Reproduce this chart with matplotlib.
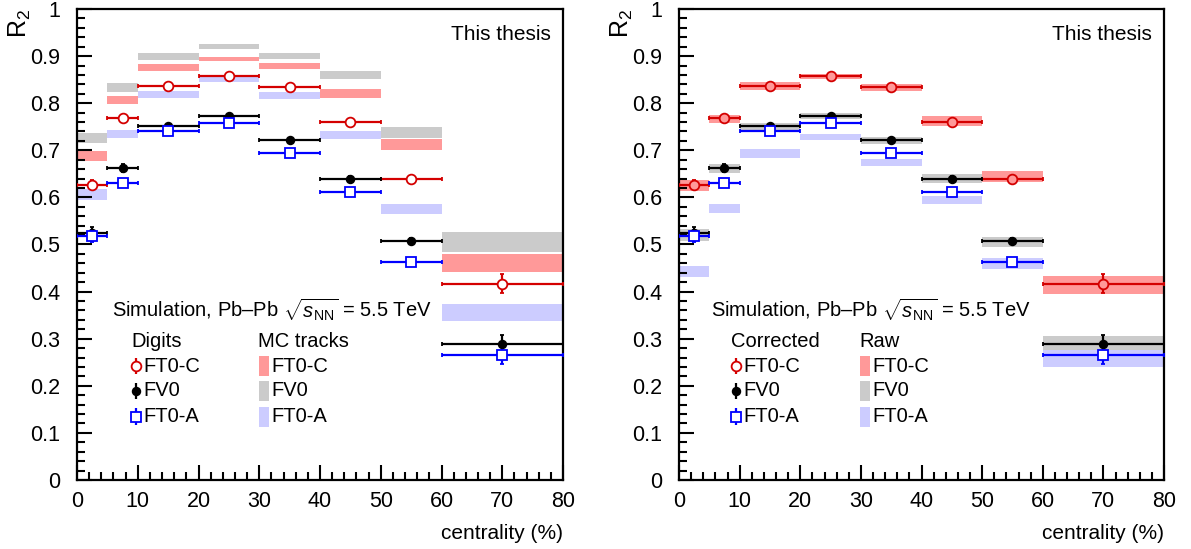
import numpy as np
import matplotlib
matplotlib.use('Agg')
import matplotlib.pyplot as plt
from matplotlib.ticker import MultipleLocator, FuncFormatter

plt.rcParams.update({
    'font.family': ['Liberation Sans', 'DejaVu Sans'],
    'font.size': 15,
    'mathtext.fontset': 'custom',
    'mathtext.rm': 'Liberation Sans',
    'mathtext.it': 'Liberation Sans:italic',
})

# centrality bins
edges = np.array([0, 5, 10, 20, 30, 40, 50, 60, 80])

# digits / corrected values
ft0c = [0.627, 0.768, 0.836, 0.857, 0.834, 0.761, 0.640, 0.417]
ft0c_err = [0.010, 0.007, 0.004, 0.004, 0.004, 0.005, 0.005, 0.020]
fv0 = [0.525, 0.662, 0.751, 0.773, 0.722, 0.639, 0.507, 0.289]
fv0_err = [0.012, 0.009, 0.005, 0.004, 0.005, 0.006, 0.006, 0.018]
ft0a = [0.518, 0.631, 0.742, 0.759, 0.695, 0.611, 0.463, 0.266]
ft0a_err = [0.012, 0.008, 0.005, 0.004, 0.005, 0.006, 0.006, 0.020]

# MC tracks bands (low, high)
mc_ft0c_lo = [0.678, 0.798, 0.869, 0.890, 0.872, 0.810, 0.700, 0.441]
mc_ft0c_hi = [0.699, 0.815, 0.883, 0.898, 0.886, 0.830, 0.725, 0.480]
mc_fv0_lo = [0.715, 0.824, 0.892, 0.916, 0.893, 0.851, 0.726, 0.485]
mc_fv0_hi = [0.737, 0.842, 0.906, 0.925, 0.906, 0.868, 0.749, 0.526]
mc_ft0a_lo = [0.595, 0.727, 0.810, 0.845, 0.808, 0.723, 0.564, 0.337]
mc_ft0a_hi = [0.618, 0.744, 0.826, 0.857, 0.823, 0.742, 0.587, 0.374]

# raw bands (low, high)
raw_ft0c_lo = [0.613, 0.758, 0.828, 0.852, 0.826, 0.751, 0.632, 0.395]
raw_ft0c_hi = [0.638, 0.776, 0.844, 0.861, 0.840, 0.773, 0.656, 0.434]
raw_fv0_lo = [0.507, 0.651, 0.741, 0.767, 0.713, 0.630, 0.495, 0.275]
raw_fv0_hi = [0.532, 0.671, 0.759, 0.780, 0.729, 0.649, 0.516, 0.306]
raw_ft0a_lo = [0.432, 0.566, 0.684, 0.722, 0.666, 0.585, 0.448, 0.240]
raw_ft0a_hi = [0.455, 0.585, 0.702, 0.734, 0.682, 0.603, 0.471, 0.275]

red, black, blue = '#d40000', 'black', '#0000ff'
band_red, band_gray, band_blue = '#ff9999', '#cbcbcb', '#ccccff'

centers = 0.5 * (edges[:-1] + edges[1:])
widths = np.diff(edges)

fig = plt.figure(figsize=(11.91, 5.49), dpi=100)
ax1 = fig.add_axes([77 / 1191, 69 / 549, 486 / 1191, 471 / 549])
ax2 = fig.add_axes([679 / 1191, 69 / 549, 485 / 1191, 471 / 549])


def draw_bands(ax, lo, hi, color):
    lo = np.array(lo)
    hi = np.array(hi)
    ax.bar(centers, hi - lo, bottom=lo, width=widths, color=color, linewidth=0, zorder=1)


def draw_points(ax, vals, errs, color, marker, face, ms):
    ax.errorbar(centers, vals, xerr=widths / 2, yerr=errs, fmt=marker, color=color,
                mfc=face, mec=color, ms=ms, mew=1.3, elinewidth=1.6, capsize=1.5,
                capthick=1.6, zorder=3)


def style(ax):
    ax.set_xlim(0, 80)
    ax.set_ylim(0, 1)
    ax.xaxis.set_major_locator(MultipleLocator(10))
    ax.xaxis.set_minor_locator(MultipleLocator(2))
    ax.yaxis.set_major_locator(MultipleLocator(0.1))
    ax.yaxis.set_minor_locator(MultipleLocator(0.02))
    ax.yaxis.set_major_formatter(FuncFormatter(lambda v, p: '%g' % round(v, 2)))
    ax.tick_params(which='both', direction='in', top=False, right=False, width=1.5)
    ax.tick_params(which='major', length=11, labelsize=15.5)
    ax.tick_params(axis='y', which='major', pad=12)
    ax.tick_params(axis='x', which='major', pad=8)
    ax.tick_params(which='minor', length=5.5)
    for s in ax.spines.values():
        s.set_linewidth(1.6)
    ax.text(0.975, 0.945, 'This thesis', transform=ax.transAxes, ha='right', va='center',
            fontsize=15)
    ax.text(1.0, -0.093, 'centrality (%)', transform=ax.transAxes, ha='right', va='top',
            fontsize=15)
    ax.text(-0.118, 1.0, r'R$_2$', transform=ax.transAxes, ha='center', va='top',
            rotation=90, fontsize=18)


def legend(ax, sim_x, col1_x, col2_x, head1, head2):
    t = ax.transAxes
    ax.text(sim_x, 0.361, r'Simulation, Pb–Pb $\sqrt{s_{\rm NN}}$ = 5.5 TeV', transform=t,
            ha='left', va='center', fontsize=14.5)
    ax.text(col1_x, 0.293, head1, transform=t, ha='left', va='center', fontsize=14.5)
    ax.text(col2_x, 0.293, head2, transform=t, ha='left', va='center', fontsize=14.5)
    rows = [('FT0-C', red, 'o', 'white', 7, band_red),
            ('FV0', black, 'o', black, 5.5, band_gray),
            ('FT0-A', blue, 's', 'white', 6.5, band_blue)]
    ys = [0.242, 0.189, 0.134]
    for (name, c, m, f, ms, bc), y in zip(rows, ys):
        mx = col1_x + 0.01
        ax.errorbar([mx], [y], yerr=[0.018], fmt=m, color=c, mfc=f, mec=c, ms=ms, mew=1.3,
                    elinewidth=1.6, capsize=0, transform=t, clip_on=False, zorder=5)
        ax.text(col1_x + 0.025, y, name, transform=t, ha='left', va='center', fontsize=14.5)
        ax.add_patch(plt.Rectangle((col2_x + 0.002, y - 0.022), 0.021, 0.044, transform=t,
                                   color=bc, linewidth=0))
        ax.text(col2_x + 0.028, y, name, transform=t, ha='left', va='center', fontsize=14.5)


# left panel: digits vs MC tracks
draw_bands(ax1, mc_fv0_lo, mc_fv0_hi, band_gray)
draw_bands(ax1, mc_ft0c_lo, mc_ft0c_hi, band_red)
draw_bands(ax1, mc_ft0a_lo, mc_ft0a_hi, band_blue)
draw_points(ax1, ft0c, ft0c_err, red, 'o', 'white', 7)
draw_points(ax1, fv0, fv0_err, black, 'o', black, 5.5)
draw_points(ax1, ft0a, ft0a_err, blue, 's', 'white', 6.5)
style(ax1)
legend(ax1, 0.072, 0.111, 0.372, 'Digits', 'MC tracks')

# right panel: corrected vs raw
draw_bands(ax2, raw_ft0c_lo, raw_ft0c_hi, band_red)
draw_bands(ax2, raw_fv0_lo, raw_fv0_hi, band_gray)
draw_bands(ax2, raw_ft0a_lo, raw_ft0a_hi, band_blue)
draw_points(ax2, ft0c, ft0c_err, red, 'o', band_red, 7)
draw_points(ax2, fv0, fv0_err, black, 'o', black, 5.5)
draw_points(ax2, ft0a, ft0a_err, blue, 's', 'white', 6.5)
style(ax2)
legend(ax2, 0.067, 0.107, 0.371, 'Corrected', 'Raw')

fig.savefig('out.png', dpi=100)
